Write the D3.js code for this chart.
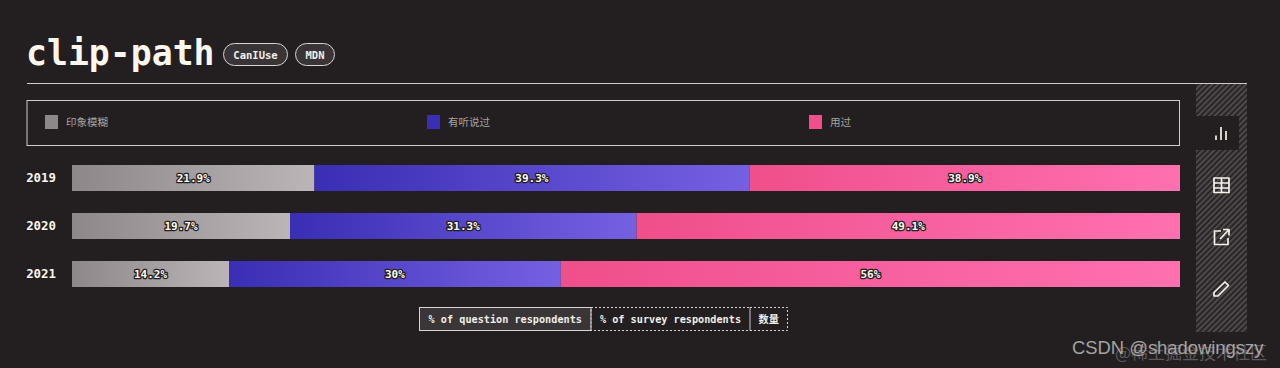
<!DOCTYPE html>
<html>
<head>
<meta charset="utf-8">
<script src="https://cdn.jsdelivr.net/npm/d3@7"></script>
<style>
    html, body { margin: 0; padding: 0; background: #231f20; overflow: hidden; }
    text { font-family: "DejaVu Sans Mono", monospace; }
    .cjk { font-family: "Noto Sans CJK SC", sans-serif; }
</style>
</head>
<body>
<div id="chart"></div>
<script>
const years = ["2019", "2020", "2021"];
const seriesNames = ["印象模糊", "有听说过", "用过"];
const blurry = [21.9, 19.7, 14.2];
const heard = [39.3, 31.3, 30];
const used = [38.9, 49.1, 56];
const valueLabels = [
    ["21.9%", "19.7%", "14.2%"],
    ["39.3%", "31.3%", "30%"],
    ["38.9%", "49.1%", "56%"]
];
const seriesColors = [
    ["#8e8789", "#bcb5b7"],
    ["#392eb4", "#7660e2"],
    ["#ef4f8b", "#ff70b1"]
];
const legendColors = ["#8e8789", "#392eb4", "#f34e8c"];
const toggleLabels = ["% of question respondents", "% of survey respondents", "数量"];
const toggleEdges = [419.5, 591, 750, 787.5];
const links = ["CanIUse", "MDN"];

const svg = d3.select("#chart").append("svg")
    .attr("width", 1280)
    .attr("height", 368)
    .style("display", "block");

const defs = svg.append("defs");

//Hatch for the side bar
const hatch = defs.append("pattern")
    .attr("id", "hatch")
    .attr("width", 4)
    .attr("height", 4)
    .attr("patternUnits", "userSpaceOnUse")
    .attr("patternTransform", "rotate(45)");
hatch.append("rect").attr("width", 4).attr("height", 4).attr("fill", "#2a2627");
hatch.append("rect").attr("width", 1.6).attr("height", 4).attr("fill", "#555152");

//Title
svg.append("text")
    .attr("x", 26)
    .attr("y", 65)
    .attr("fill", "#fbf7ec")
    .attr("font-size", 34.8)
    .attr("font-weight", 700)
    .text("clip-path");

//Link pills
const pillX = [223.5, 295.5];
const pillW = [64, 39];
svg.selectAll(".pill")
    .data(links)
    .enter()
    .append("rect")
    .attr("class", "pill")
    .attr("x", (d, i) => pillX[i])
    .attr("y", 43.5)
    .attr("width", (d, i) => pillW[i])
    .attr("height", 22)
    .attr("rx", 11)
    .attr("fill", "#393536")
    .attr("stroke", "#d8d4d0");
svg.selectAll(".pillText")
    .data(links)
    .enter()
    .append("text")
    .attr("class", "pillText")
    .attr("x", (d, i) => pillX[i] + pillW[i] / 2)
    .attr("y", 58.5)
    .attr("text-anchor", "middle")
    .attr("fill", "#f2eee8")
    .attr("font-size", 10.5)
    .attr("font-weight", 700)
    .text(d => d);

//Header rule
svg.append("line")
    .attr("x1", 27).attr("x2", 1247)
    .attr("y1", 83.5).attr("y2", 83.5)
    .attr("stroke", "#d0ccc8");

//Legend
svg.append("rect")
    .attr("x", 27).attr("y", 100.5)
    .attr("width", 1152.5).attr("height", 45)
    .attr("fill", "none")
    .attr("stroke", "#d0ccc8");
const legendX = d3.scalePoint().domain(seriesNames).range([45, 809]);
const legend = svg.selectAll(".legendItem")
    .data(seriesNames)
    .enter()
    .append("g")
    .attr("class", "legendItem")
    .attr("transform", d => `translate(${legendX(d)},115)`);
legend.append("rect")
    .attr("width", 13)
    .attr("height", 14)
    .attr("fill", (d, i) => legendColors[i]);
legend.append("text")
    .attr("class", "cjk")
    .attr("x", 21)
    .attr("y", 11)
    .attr("fill", "#a8a4a2")
    .attr("font-size", 10.5)
    .text(d => d);

//Stacked bars
const rows = years.map((y, i) => ({ year: y, a: blurry[i], b: heard[i], c: used[i] }));
const stack = d3.stack().keys(["a", "b", "c"]).offset(d3.stackOffsetExpand);
const layers = stack(rows);

const x = d3.scaleLinear().domain([0, 1]).range([72, 1180]);
const y = d3.scaleBand().domain(years).range([143, 309]).padding(22 / 48);

//one gradient per segment, the colour runs across each segment
layers.forEach((layer, s) => {
    layer.forEach((d, r) => {
        const g = defs.append("linearGradient").attr("id", `grad-${s}-${r}`);
        g.append("stop").attr("offset", "0%").attr("stop-color", seriesColors[s][0]);
        g.append("stop").attr("offset", "100%").attr("stop-color", seriesColors[s][1]);
    });
});

const layerG = svg.selectAll(".layer")
    .data(layers)
    .enter()
    .append("g")
    .attr("class", "layer");
layerG.selectAll("rect")
    .data((d, s) => d.map((v, r) => ({ v, r, s })))
    .enter()
    .append("rect")
    .attr("x", d => x(d.v[0]))
    .attr("y", d => y(years[d.r]))
    .attr("width", d => x(d.v[1]) - x(d.v[0]))
    .attr("height", y.bandwidth())
    .attr("fill", d => `url(#grad-${d.s}-${d.r})`);
layerG.selectAll("text")
    .data((d, s) => d.map((v, r) => ({ v, r, s })))
    .enter()
    .append("text")
    .attr("x", d => (x(d.v[0]) + x(d.v[1])) / 2)
    .attr("y", d => y(years[d.r]) + y.bandwidth() / 2 + 4)
    .attr("text-anchor", "middle")
    .attr("font-size", 11)
    .attr("font-weight", 700)
    .attr("fill", "#fdfaf5")
    .attr("stroke", "#231f20")
    .attr("stroke-width", 2.6)
    .attr("paint-order", "stroke")
    .attr("stroke-linejoin", "round")
    .text(d => valueLabels[d.s][d.r]);

//Year labels
const yAxis = svg.append("g")
    .attr("transform", "translate(56,0)")
    .call(d3.axisLeft(y).tickSize(0).tickPadding(0));
yAxis.select(".domain").remove();
yAxis.selectAll("text")
    .attr("fill", "#fbf7ec")
    .attr("font-size", 12.4)
    .attr("font-weight", 700)
    .attr("font-family", "DejaVu Sans Mono");

//Toggle buttons
toggleLabels.forEach((label, i) => {
    svg.append("rect")
        .attr("x", toggleEdges[i])
        .attr("y", 307.5)
        .attr("width", toggleEdges[i + 1] - toggleEdges[i])
        .attr("height", 23)
        .attr("fill", i == 0 ? "#3a3536" : "none")
        .attr("stroke", "#d8d4d0")
        .attr("stroke-dasharray", i == 0 ? null : "2,2");
    svg.append("text")
        .attr("class", i == 2 ? "cjk" : null)
        .attr("x", (toggleEdges[i] + toggleEdges[i + 1]) / 2)
        .attr("y", 323)
        .attr("text-anchor", "middle")
        .attr("fill", "#f2eee8")
        .attr("font-size", 10.2)
        .attr("font-weight", 700)
        .text(label);
});

//Side bar with its icons
svg.append("rect")
    .attr("x", 1196).attr("y", 84)
    .attr("width", 51).attr("height", 248)
    .attr("fill", "url(#hatch)");
svg.append("rect")
    .attr("x", 1196).attr("y", 116)
    .attr("width", 43).attr("height", 34)
    .attr("fill", "#231f20");

const iconG = svg.append("g")
    .attr("fill", "none")
    .attr("stroke", "#f5f2ec")
    .attr("stroke-width", 1.7)
    .attr("stroke-linejoin", "round");
//bars
iconG.append("path").attr("d", "M1216 140v-4.500M1221 140v-13M1226 140v-9");
//table
iconG.append("path").attr("d", "M1214 178h15v14.500h-15zM1214 183h15M1214 188h15M1221.500 178v14.500");
//share
iconG.append("path").attr("d", "M1221 231h-6.500v13.500h13.500v-6.500M1220 239l8.500-9M1223 229.500h6v6");
//pencil
iconG.append("path").attr("d", "M1214 292.500l0 3.500 4 0 10.500-10.500-3.500-3.500z");

//Watermarks
svg.append("text")
    .attr("class", "cjk")
    .attr("x", 1115)
    .attr("y", 359)
    .attr("fill", "#5d595a")
    .attr("font-size", 17)
    .text("@稀土掘金技术社区");
svg.append("text")
    .attr("x", 1072)
    .attr("y", 354)
    .attr("fill", "#a5a3a3")
    .attr("font-size", 18.4)
    .style("font-family", "Liberation Sans")
    .text("CSDN @shadowingszy");
</script>
</body>
</html>
